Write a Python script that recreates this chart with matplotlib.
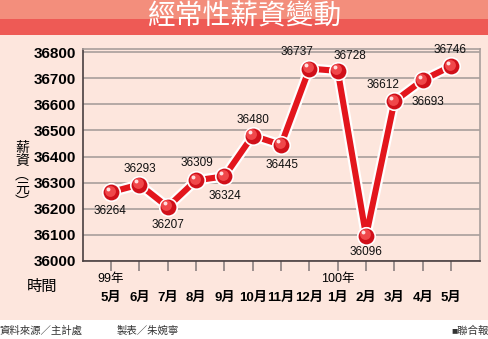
import matplotlib
matplotlib.use("Agg")
import matplotlib.pyplot as plt
import matplotlib.patheffects as pe
from matplotlib.patches import Rectangle
from matplotlib.transforms import offset_copy, blended_transform_factory

plt.rcParams['font.family'] = ['Liberation Sans', 'Noto Sans CJK TC', 'DejaVu Sans']

# data
months = ['5月', '6月', '7月', '8月', '9月', '10月', '11月', '12月', '1月', '2月', '3月', '4月', '5月']
years = {0: '99年', 8: '100年'}
salary = [36264, 36293, 36207, 36309, 36324, 36480, 36445, 36737, 36728, 36096, 36612, 36693, 36746]
# label offsets in pixels (dx, dy)
label_off = [(-1, -19), (0, 16), (0, -18), (1, 17), (1, -20), (0, 16), (1, -20),
             (-12, 17), (12, 15), (0, -16), (-11, 16), (5, -22), (-1, 16)]

W, H = 489, 339
fig = plt.figure(figsize=(W / 100, H / 100), dpi=100)
fig.patch.set_facecolor('white')

# background bands
def band(y0, y1, color):
    fig.patches.append(Rectangle((0, 1 - y1 / H), 1, (y1 - y0) / H, transform=fig.transFigure,
                                 facecolor=color, edgecolor='none', zorder=-10))

band(0, 19, '#f38e7c')
band(19, 35, '#ee5a55')
band(35, 320, '#fde6dd')

fig.text(0.5, 1 - 17.5 / H, '經常性薪資變動', color='white', fontsize=20, fontweight='medium',
         ha='center', va='center')

ax = fig.add_axes([82.7 / W, 1 - 261 / H, (480 - 82.7) / W, (261 - 49) / H])
ax.set_facecolor('none')
x = list(range(len(salary)))

ax.plot(x, salary, color='#e3161d', lw=4.4, solid_capstyle='butt', zorder=3,
        path_effects=[pe.Stroke(linewidth=7.6, foreground='white'), pe.Normal()])
ax.plot(x, salary, 'o', ms=12.6, mfc='#d0101a', mec='white', mew=1.2, zorder=4)
hl = offset_copy(ax.transData, fig=fig, x=-1.5, y=1.5, units='dots')
ax.plot(x, salary, 'o', ms=7.8, mfc='#f0474a', mec='none', zorder=5, transform=hl)
hl2 = offset_copy(ax.transData, fig=fig, x=-3, y=3.5, units='dots')
ax.plot(x, salary, 'o', ms=2.8, mfc='#ffe0e0', mec='none', zorder=6, transform=hl2)

for xi, v, (dx, dy) in zip(x, salary, label_off):
    ax.annotate(str(v), (xi, v), xytext=(dx, dy), textcoords='offset pixels',
                ha='center', va='center', fontsize=8.5, color='#111111', zorder=7)

ax.set_xlim(-1, 13.02)
ax.set_ylim(36000, 36812)
ax.set_yticks(range(36000, 36801, 100))
ax.set_yticklabels([str(v) for v in range(36000, 36801, 100)], fontsize=11, fontweight='bold')
ax.tick_params(axis='y', length=0, pad=5)
ax.set_xticks(x)
ax.set_xticklabels([])
ax.tick_params(axis='x', length=7, width=1.2, color='#8a8080', direction='out')
ax.grid(axis='y', color='#a89e9c', lw=1.2)
ax.set_axisbelow(True)
for s in ['left', 'bottom']:
    ax.spines[s].set_color('#4a4040')
    ax.spines[s].set_linewidth(1.2)
for s in ['top', 'right']:
    ax.spines[s].set_color('#a89e9c')
    ax.spines[s].set_linewidth(1.2)

tr = blended_transform_factory(ax.transData, fig.transFigure)
for i, m in enumerate(months):
    ax.text(i, 1 - 298 / H, m, transform=tr, ha='center', va='center', fontsize=9.5,
            fontweight='bold', clip_on=False)
for i, y in years.items():
    ax.text(i, 1 - 279 / H, y, transform=tr, ha='center', va='center', fontsize=9,
            clip_on=False)

fig.text(42 / W, 1 - 287 / H, '時間', ha='center', va='center', fontsize=11)
fig.text(22 / W, 1 - 175 / H, '薪\n資\n︵\n元\n︶', ha='center', va='center', fontsize=10,
         linespacing=0.95)

fig.text(0, 1 - 331 / H, '資料來源／主計處', ha='left', va='center', fontsize=7.5, color='#333333')
fig.text(117 / W, 1 - 331 / H, '製表／朱婉寧', ha='left', va='center', fontsize=7.5, color='#333333')
fig.text(1, 1 - 331 / H, '■聯合報', ha='right', va='center', fontsize=7.5, color='#333333')

fig.savefig('out.png', dpi=100)
